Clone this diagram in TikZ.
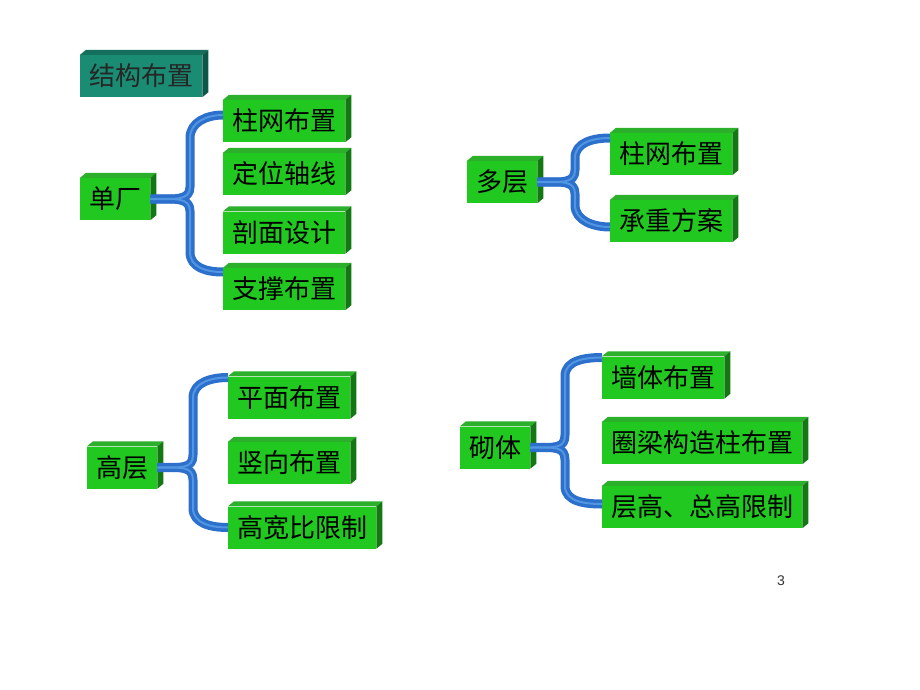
\documentclass[tikz,border=0pt]{standalone}
\usepackage{fontspec}
\newfontfamily\cjk{Noto Sans CJK SC}
\newfontfamily\arialf{Liberation Sans}
\definecolor{gfront}{RGB}{32,200,32}
\definecolor{gtop}{RGB}{44,176,44}
\definecolor{gside}{RGB}{18,120,18}
\definecolor{tfront}{RGB}{26,140,116}
\definecolor{ttop}{RGB}{20,112,92}
\definecolor{tside}{RGB}{12,88,72}
\definecolor{bbase}{RGB}{44,112,204}
\definecolor{bhigh}{RGB}{80,150,226}
\tikzset{
  leaf/.style={rectangle, fill=gfront, anchor=west, inner xsep=9pt, inner ysep=0pt,
    minimum height=42pt, font=\cjk\fontsize{26}{26}\selectfont, text=black},
  titlebox/.style={leaf, fill=tfront, text=black!85},
  bracebase/.style={draw=bbase, line width=9pt, line join=round},
  bracehigh/.style={draw=bhigh, line width=2pt, line join=round},
}
\newcommand{\boxfaces}[3]{%
  \fill[#2] (#1.north west) -- ++(6,-5) -- ([shift={(6,-5)}]#1.north east) -- (#1.north east) -- cycle;
  \fill[#3] (#1.north east) -- ++(6,-5) -- ([shift={(6,-5)}]#1.south east) -- (#1.south east) -- cycle;}
\begin{document}
\begin{tikzpicture}[x=1pt,y=-1pt]
\fill[white] (0,0) rectangle (920,690);
\path[use as bounding box] (0,0) rectangle (920,690);

% title
\node[titlebox] (title) at (80,76) {结构布置};

% group 1
\node[leaf] (p1) at (80,199) {单厂};
\node[leaf] (c11) at (223,121) {柱网布置};
\node[leaf] (c12) at (223,174) {定位轴线};
\node[leaf] (c13) at (223,232.5) {剖面设计};
\node[leaf] (c14) at (223,289) {支撑布置};

% group 2
\node[leaf] (p2) at (467,182) {多层};
\node[leaf] (c21) at (610,154) {柱网布置};
\node[leaf] (c22) at (610,221) {承重方案};

% group 3
\node[leaf] (p3) at (87,467.5) {高层};
\node[leaf] (c31) at (228,397.5) {平面布置};
\node[leaf] (c32) at (228,463) {竖向布置};
\node[leaf] (c33) at (228,527.5) {高宽比限制};

% group 4
\node[leaf] (p4) at (460,447.5) {砌体};
\node[leaf] (c41) at (602,377.5) {墙体布置};
\node[leaf] (c42) at (602,443) {圈梁构造柱布置};
\node[leaf] (c43) at (602,507) {层高、总高限制};

\boxfaces{title}{ttop}{tside}
\foreach \n in {p1,c11,c12,c13,c14,p2,c21,c22,p3,c31,c32,c33,p4,c41,c42,c43}{\boxfaces{\n}{gtop}{gside}}

\foreach \s in {bracebase,bracehigh}{
  % group 1
  \draw[\s] (p1.east) .. controls +(24,0) and +(0,14) .. (190,187) -- (190,138)
     .. controls +(0,-16) and +(-16,0) .. ([yshift=6pt]c11.west);
  \draw[\s] (p1.east) .. controls +(24,0) and +(0,-14) .. (190,211) -- (190,252)
     .. controls +(0,16) and +(-16,0) .. ([yshift=17pt]c14.west);
  % group 2
  \draw[\s] (p2.east) .. controls +(24,0) and +(0,14) .. (575,170) -- (575,158)
     .. controls +(0,-16) and +(-16,0) .. ([yshift=16pt]c21.west);
  \draw[\s] (p2.east) .. controls +(24,0) and +(0,-14) .. (575,194) -- (575,205)
     .. controls +(0,16) and +(-16,0) .. ([yshift=-6pt]c22.west);
  % group 3
  \draw[\s] (p3.east) .. controls +(24,0) and +(0,14) .. (193,455) -- (193,398)
     .. controls +(0,-16) and +(-16,0) .. ([yshift=20pt]c31.west);
  \draw[\s] (p3.east) .. controls +(24,0) and +(0,-14) .. (193,480) -- (193,508)
     .. controls +(0,16) and +(-16,0) .. (c33.west);
  % group 4
  \draw[\s] (p4.east) .. controls +(24,0) and +(0,14) .. (565,435) -- (565,376)
     .. controls +(0,-16) and +(-16,0) .. ([yshift=20pt]c41.west);
  \draw[\s] (p4.east) .. controls +(24,0) and +(0,-14) .. (565,460) -- (565,486)
     .. controls +(0,16) and +(-16,0) .. ([yshift=3pt]c43.west);
}

\node[font=\arialf\fontsize{14}{14}\selectfont, text=black!80] (pg) at (781,581) {3};
\end{tikzpicture}
\end{document}
